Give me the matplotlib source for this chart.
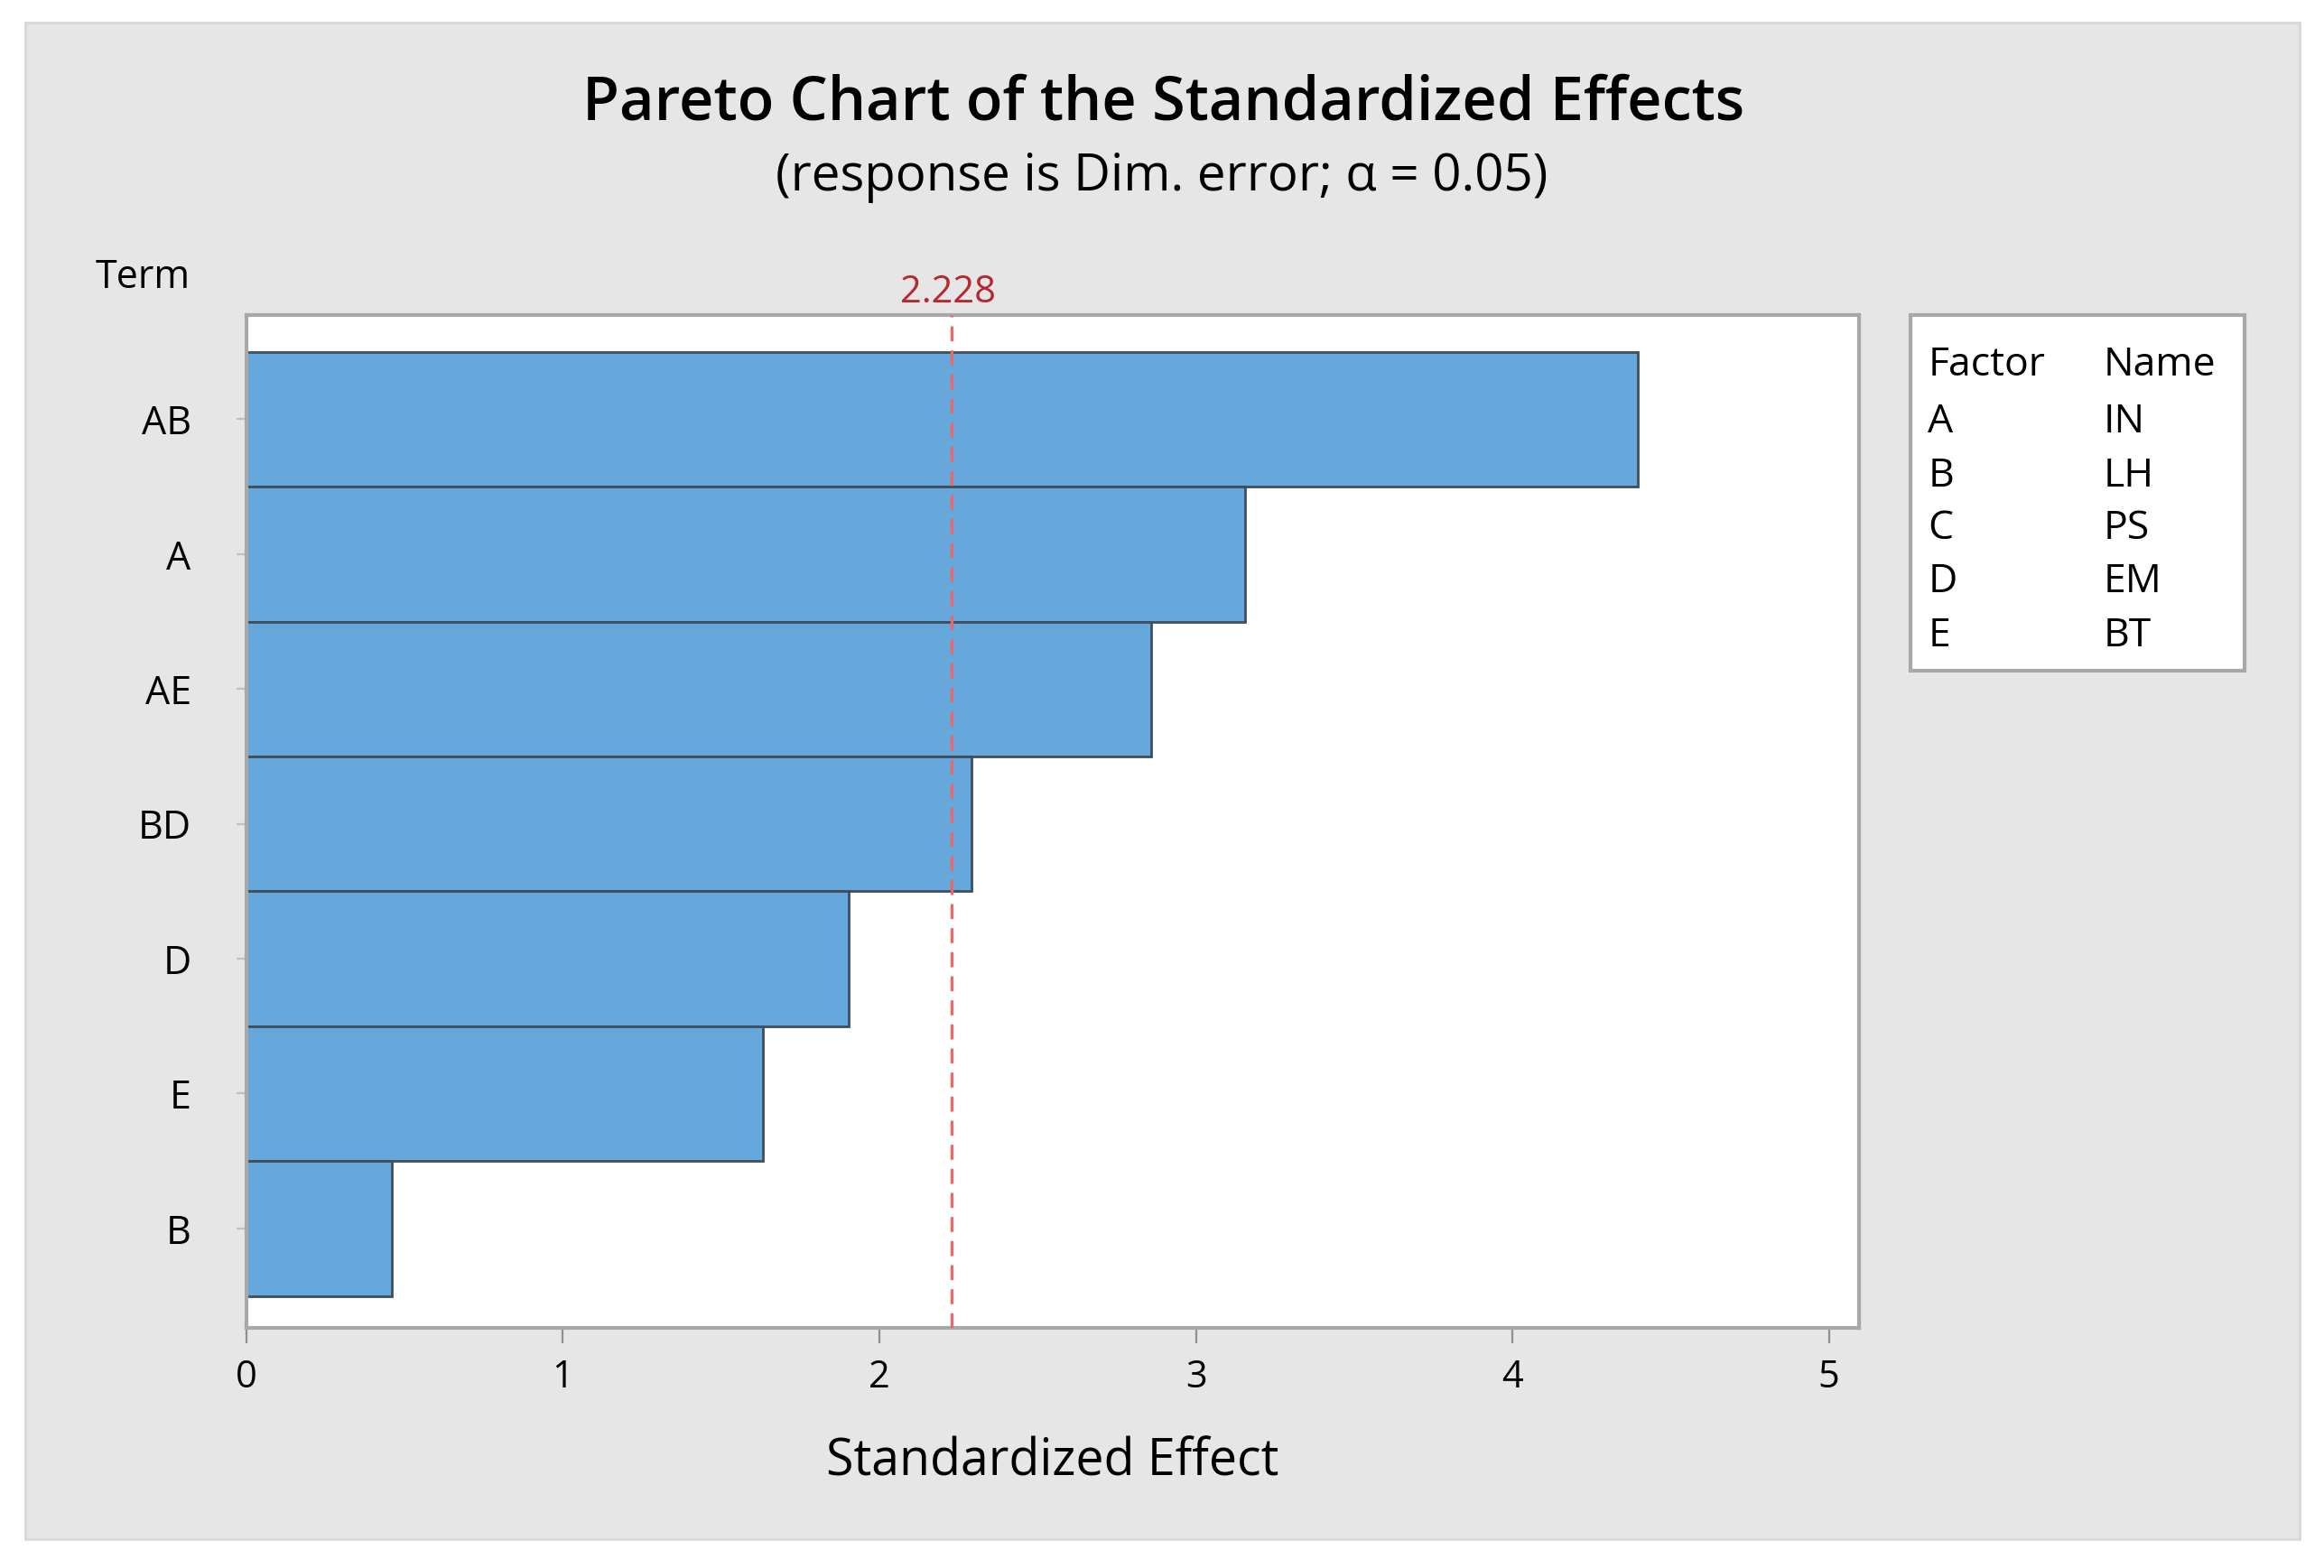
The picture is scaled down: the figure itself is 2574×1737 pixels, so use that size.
"""Pareto chart of the standardized effects (Minitab style)."""

import matplotlib
matplotlib.use('Agg')
import matplotlib.pyplot as plt
from matplotlib.patches import Rectangle

plt.rcParams['font.family'] = ['Open Sans', 'DejaVu Sans']

# datos
terminos = ['AB', 'A', 'AE', 'BD', 'D', 'E', 'B']
efectos = [4.395, 3.154, 2.858, 2.291, 1.902, 1.631, 0.459]
critico = 2.228
factores = ['A', 'B', 'C', 'D', 'E']
nombres = ['IN', 'LH', 'PS', 'EM', 'BT']
x_ticks = [0, 1, 2, 3, 4, 5]

AZUL = '#66a8dc'
BORDE_BARRA = '#3e4e5e'
GRIS_FONDO = '#e6e6e6'
GRIS_MARCO = '#a8a8a8'

fig = plt.figure(figsize=(12.87, 8.685), dpi=200, facecolor='white')

# panel gris de fondo
fig.patches.append(Rectangle((0.011, 0.0185), 0.9785, 0.9673,
                             transform=fig.transFigure, facecolor=GRIS_FONDO,
                             edgecolor='#d8d8d8', linewidth=1, zorder=-10))

ax = fig.add_axes([0.106, 0.1529, 0.6938, 0.6464])
ax.set_facecolor('white')

posiciones = list(range(len(terminos)))[::-1]
ax.barh(posiciones, efectos, height=1.0, color=AZUL,
        edgecolor=BORDE_BARRA, linewidth=1.0, zorder=2)
ax.axvline(critico, color='#e8686c', linestyle=(0, (5, 3)),
           linewidth=1.2, zorder=3)
ax.text(critico - 0.01, 6.8, f'{critico:.3f}', color='#b8262e', fontsize=15,
        ha='center', va='bottom')

ax.set_xlim(0, 5.094)
ax.set_ylim(-0.74, 6.775)
ax.set_xticks(x_ticks)
ax.set_yticks(posiciones)
ax.set_yticklabels(terminos)

for lado in ax.spines.values():
    lado.set_color(GRIS_MARCO)
    lado.set_linewidth(1.5)

ax.tick_params(axis='x', length=6, width=0.8, color='#909090', pad=6,
               labelsize=15)
ax.tick_params(axis='y', length=4, width=0.8, color='#c0c0c0', pad=18,
               labelsize=15.5)
ax.set_xlabel('Standardized Effect', fontsize=20, labelpad=16)

fig.text(0.041, 0.823, 'Term', fontsize=15.5, ha='left', va='center')
fig.text(0.5006, 0.9337, 'Pareto Chart of the Standardized Effects',
         fontsize=24, fontweight='semibold', ha='center', va='center')
fig.text(0.5, 0.887, '(response is Dim. error; α = 0.05)', fontsize=20.3,
         ha='center', va='center')

# cuadro de factores
fig.patches.append(Rectangle((0.8222, 0.572), 0.1438, 0.2273,
                             transform=fig.transFigure, facecolor='white',
                             edgecolor=GRIS_MARCO, linewidth=1.5, zorder=1))
filas_y = [0.767, 0.731, 0.696, 0.663, 0.629, 0.594]
fig.text(0.8295, filas_y[0], 'Factor', fontsize=16, va='center')
fig.text(0.905, filas_y[0], 'Name', fontsize=16, va='center')
for y, f, n in zip(filas_y[1:], factores, nombres):
    fig.text(0.8295, y, f, fontsize=16, va='center')
    fig.text(0.905, y, n, fontsize=16, va='center')

fig.savefig('out.png', dpi=200, facecolor='white')
